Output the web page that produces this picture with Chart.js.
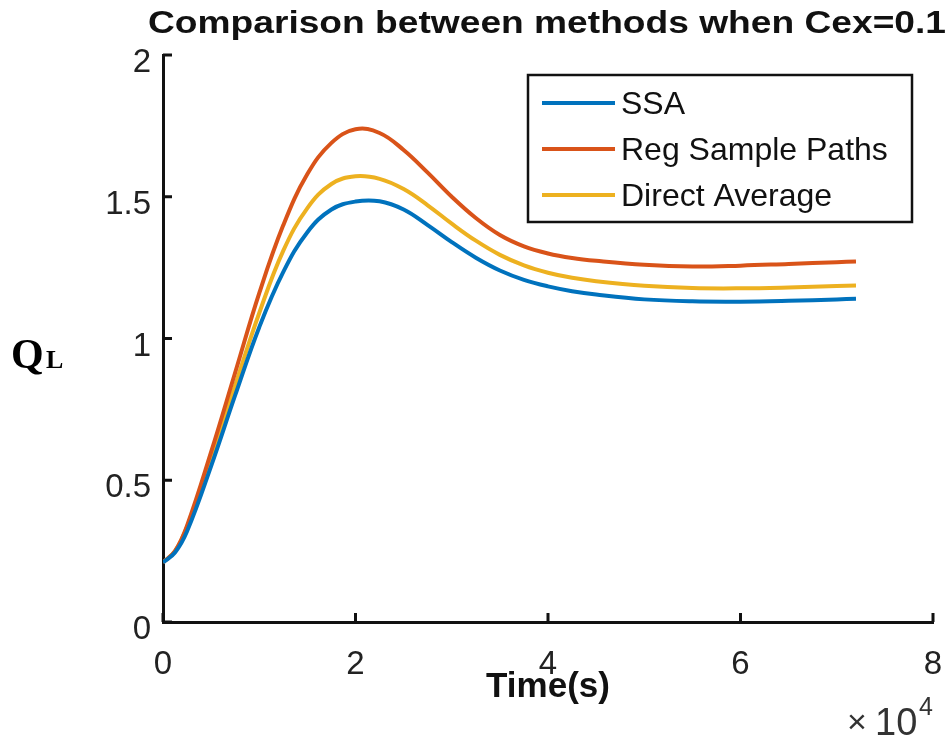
<!DOCTYPE html>
<html>
<head>
<meta charset="utf-8">
<script src="https://cdn.jsdelivr.net/npm/chart.js@4"></script>
<style>
  html, body { margin: 0; padding: 0; background: #fff; }
  #wrap { width: 947px; height: 735px; position: relative; }
</style>
</head>
<body>
<div id="wrap"><canvas id="qlChart"></canvas></div>
<script>
// time in seconds (axis shows x 10^4)
const timeSec = [0, 1250, 2500, 5000, 7500, 10000, 12500, 15000, 17500, 20000, 22500, 25000, 27500,
    30000, 32500, 35000, 37500, 40000, 42500, 45000, 50000, 55000, 60000, 65000, 70000, 72000];

const ssa = [0.21, 0.245, 0.32, 0.55, 0.80, 1.04, 1.235, 1.375, 1.455, 1.483, 1.484, 1.455, 1.40,
    1.34, 1.285, 1.24, 1.207, 1.184, 1.167, 1.155, 1.138, 1.131, 1.13, 1.133, 1.138, 1.14];
const regSamplePaths = [0.21, 0.25, 0.34, 0.60, 0.88, 1.16, 1.40, 1.58, 1.69, 1.738, 1.725, 1.665, 1.585,
    1.50, 1.425, 1.365, 1.325, 1.30, 1.284, 1.274, 1.26, 1.254, 1.257, 1.263, 1.269, 1.272];
const directAverage = [0.21, 0.25, 0.335, 0.575, 0.835, 1.09, 1.31, 1.46, 1.545, 1.572, 1.563, 1.527, 1.47,
    1.405, 1.345, 1.295, 1.258, 1.232, 1.214, 1.202, 1.186, 1.178, 1.177, 1.18, 1.185, 1.187];

const seriesLabels = ['SSA', 'Reg Sample Paths', 'Direct Average'];
const seriesColors = ['#0072BD', '#D95319', '#EDB120'];
const xTicks = [0, 20000, 40000, 60000, 80000];
const yTicks = [0, 0.5, 1, 1.5, 2];

const toPoints = vals => vals.map((v, i) => ({ x: timeSec[i], y: v }));

Chart.defaults.font.family = "'Liberation Sans', Arial, sans-serif";
Chart.defaults.color = '#222';

// extra drawing: inward ticks, title, axis labels, exponent, legend box
const decorations = {
    id: 'decorations',
    afterDraw(chart) {
        const ctx = chart.ctx;
        const area = chart.chartArea;
        const xs = chart.scales.x, ys = chart.scales.y;
        ctx.save();

        // inward tick marks
        ctx.strokeStyle = '#111';
        ctx.lineWidth = 3;
        ctx.beginPath();
        xTicks.forEach(t => {
            const px = xs.getPixelForValue(t);
            ctx.moveTo(px, area.bottom);
            ctx.lineTo(px, area.bottom - 9);
        });
        yTicks.forEach(t => {
            const py = ys.getPixelForValue(t);
            ctx.moveTo(area.left, py);
            ctx.lineTo(area.left + 9, py);
        });
        ctx.stroke();

        // title
        ctx.fillStyle = '#111';
        ctx.font = "bold 32px 'Liberation Sans', Arial";
        const title = 'Comparison between methods when Cex=0.1';
        const tw = ctx.measureText(title).width;
        ctx.save();
        ctx.translate(148, 33);
        ctx.scale(798 / tw, 1);
        ctx.textAlign = 'left';
        ctx.textBaseline = 'alphabetic';
        ctx.fillText(title, 0, 0);
        ctx.restore();

        // x axis title
        ctx.font = "bold 35px 'Liberation Sans', Arial";
        ctx.textAlign = 'center';
        ctx.fillText('Time(s)', (area.left + area.right) / 2, 697);

        // exponent
        ctx.fillStyle = '#333';
        ctx.textAlign = 'left';
        ctx.font = "34px 'Liberation Sans', Arial";
        ctx.fillText('\u00d7', 847, 733);
        ctx.font = "38px 'Liberation Sans', Arial";
        ctx.fillText('10', 875, 735);
        ctx.font = "25px 'Liberation Sans', Arial";
        ctx.fillText('4', 919, 715);

        // y axis label Q_L
        ctx.fillStyle = '#000';
        ctx.font = "bold 42px 'Liberation Serif', 'Times New Roman', serif";
        ctx.fillText('Q', 11, 368);
        ctx.font = "bold 26px 'Liberation Serif', 'Times New Roman', serif";
        ctx.fillText('L', 46, 368);

        // legend
        const bx = 528, by = 75, bw = 384, bh = 147;
        ctx.fillStyle = '#fff';
        ctx.fillRect(bx, by, bw, bh);
        ctx.strokeStyle = '#111';
        ctx.lineWidth = 2.5;
        ctx.strokeRect(bx, by, bw, bh);
        const rows = [103, 149, 195];
        ctx.font = "32px 'Liberation Sans', Arial";
        ctx.textBaseline = 'middle';
        chart.data.datasets.forEach((ds, i) => {
            ctx.strokeStyle = ds.borderColor;
            ctx.lineWidth = 4;
            ctx.beginPath();
            ctx.moveTo(542, rows[i]);
            ctx.lineTo(615, rows[i]);
            ctx.stroke();
            ctx.fillStyle = '#111';
            ctx.fillText(ds.label, 621, rows[i] + 2);
        });
        ctx.restore();
    }
};

new Chart(document.getElementById('qlChart').getContext('2d'), {
    type: 'line',
    data: {
        datasets: seriesLabels.map((label, i) => ({
            label: label,
            data: toPoints([ssa, regSamplePaths, directAverage][i]),
            borderColor: seriesColors[i],
            backgroundColor: seriesColors[i],
            borderWidth: 4,
            pointRadius: 0,
            tension: 0.4,
            fill: false
        }))
    },
    options: {
        responsive: true,
        maintainAspectRatio: false,
        animation: false,
        layout: { padding: { top: 55, left: 0, right: 14, bottom: 0 } },
        scales: {
            x: {
                type: 'linear',
                min: 0,
                max: 80000,
                afterBuildTicks: s => { s.ticks = xTicks.map(v => ({ value: v })); },
                afterFit: s => { s.height = 113; s.paddingRight = 0; s.paddingLeft = 0; },
                ticks: {
                    callback: v => String(v / 10000),
                    font: { size: 33 },
                    color: '#222',
                    padding: 23,
                    maxRotation: 0
                },
                grid: { display: false, drawTicks: false },
                border: { display: true, color: '#111', width: 3 }
            },
            y: {
                min: 0,
                max: 2,
                afterBuildTicks: s => { s.ticks = yTicks.map(v => ({ value: v })); },
                afterFit: s => { s.width = 163; },
                ticks: {
                    callback: v => String(v),
                    font: { size: 33 },
                    color: '#222',
                    padding: 12,
                    labelOffset: 8
                },
                grid: { display: false, drawTicks: false },
                border: { display: true, color: '#111', width: 3 }
            }
        },
        plugins: {
            legend: { display: false },
            title: { display: false },
            tooltip: { enabled: false }
        }
    },
    plugins: [decorations]
});
</script>
</body>
</html>
